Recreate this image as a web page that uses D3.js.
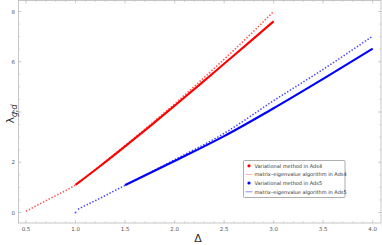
<!DOCTYPE html>
<meta charset="utf-8">
<script src="https://d3js.org/d3.v7.min.js"></script>
<style>
    body { margin: 0; background: white; }
    text { font-family: "DejaVu Sans", sans-serif; }
</style>
<div id="my_dataviz"></div>
<script>
    // data
    var ads4VarDelta = [1.0, 1.25, 1.5, 1.75, 2.0, 2.25, 2.5, 2.75, 3.0]
    var ads4VarLambda = [1.10, 1.85, 2.63, 3.43, 4.25, 5.08, 5.92, 6.76, 7.61]

    var ads4MatDelta = [0.5, 0.75, 1.0, 1.25, 1.5, 1.75, 2.0, 2.25, 2.5, 2.75, 3.0]
    var ads4MatLambda = [0.05, 0.57, 1.10, 1.87, 2.66, 3.48, 4.32, 5.2, 6.1, 7.03, 8.0]

    var ads5VarDelta = [1.5, 2.0, 2.5, 3.0, 3.5, 4.0]
    var ads5VarLambda = [1.09, 2.05, 3.04, 4.15, 5.32, 6.52]

    var ads5MatDelta = [1.025, 1.1, 1.25, 1.4, 1.5, 2.0, 2.5, 3.0, 3.5, 4.0]
    var ads5MatLambda = [0.13, 0.28, 0.57, 0.88, 1.08, 2.1, 3.15, 4.45, 5.7, 7.02]
    var ads5MatStart = [1.0, 0.0]

    var xTicks = [0.5, 1.0, 1.5, 2.0, 2.5, 3.0, 3.5, 4.0]
    var yTicks = [0, 2, 4, 6, 8]

    var legendLabels = ["Variational method in Ads4", "matrix\u2013eigenvalue algorithm in Ads4",
        "Variational method in Ads5", "matrix\u2013eigenvalue algorithm in Ads5"]

    var W = 382, H = 245
    var frame = { left: 18.5, right: 381, top: 0.5, bottom: 223 }

    var svg = d3.select("#my_dataviz").append("svg")
        .attr("width", W).attr("height", H)

    var x = d3.scaleLinear().domain([0.5, 4]).range([26, 372.7])
    var y = d3.scaleLinear().domain([0, 8]).range([212.5, 11.5])

    var xMin = x.invert(frame.left), xMax = x.invert(frame.right)
    var yMin = y.invert(frame.bottom), yMax = y.invert(frame.top)

    var axisColor = "#b8b8b8"

    // minor ticks
    var xMinor = d3.range(0.5, 4.05, 0.1).filter(function(v) { return v > xMin && v < xMax })
    var yMinor = d3.range(-0.5, 8.6, 0.5).filter(function(v) { return v > yMin && v < yMax })

    function drawTicks(vals, len, cls) {
        var g = svg.append("g").attr("class", cls)
        vals.forEach(function(v) {
            var px = x(v)
            g.append("line").attr("x1", px).attr("x2", px).attr("y1", frame.bottom).attr("y2", frame.bottom - len)
            g.append("line").attr("x1", px).attr("x2", px).attr("y1", frame.top).attr("y2", frame.top + len)
        })
        g.selectAll("line").attr("stroke", axisColor).attr("stroke-width", 0.6)
    }
    function drawYTicks(vals, len, cls) {
        var g = svg.append("g").attr("class", cls)
        vals.forEach(function(v) {
            var py = y(v)
            g.append("line").attr("y1", py).attr("y2", py).attr("x1", frame.left).attr("x2", frame.left + len)
            g.append("line").attr("y1", py).attr("y2", py).attr("x1", frame.right).attr("x2", frame.right - len)
        })
        g.selectAll("line").attr("stroke", axisColor).attr("stroke-width", 0.6)
    }
    drawTicks(xMinor, 1.5, "xminor")
    drawTicks(xTicks, 3, "xmajor")
    drawYTicks(yMinor, 1.5, "yminor")
    drawYTicks(yTicks, 3, "ymajor")

    svg.append("rect")
        .attr("x", frame.left).attr("y", frame.top)
        .attr("width", frame.right - frame.left).attr("height", frame.bottom - frame.top)
        .attr("fill", "none").attr("stroke", axisColor).attr("stroke-width", 0.8)

    // tick labels
    svg.append("g").selectAll("text").data(xTicks).enter().append("text")
        .attr("x", function(d) { return x(d) })
        .attr("y", 231)
        .attr("text-anchor", "middle")
        .style("font-size", "5.5px").style("fill", "#555")
        .text(function(d) { return d.toFixed(1) })

    svg.append("g").selectAll("text").data(yTicks).enter().append("text")
        .attr("x", 15)
        .attr("y", function(d) { return y(d) + 2 })
        .attr("text-anchor", "end")
        .style("font-size", "5.5px").style("fill", "#555")
        .text(function(d) { return d })

    // axis labels
    svg.append("text")
        .attr("x", 198).attr("y", 242)
        .attr("text-anchor", "middle")
        .style("font-size", "11px").style("fill", "#333")
        .text("\u0394")

    var yl = svg.append("text")
        .attr("transform", "translate(14,114) rotate(-90)")
        .attr("text-anchor", "middle")
        .style("fill", "#333")
    yl.append("tspan").style("font-size", "11px").text("\u03bb")
    yl.append("tspan").attr("dy", 3).style("font-size", "8px").style("font-style", "italic").text("g,d")

    // curves
    function pts(xs, ys) { return xs.map(function(d, i) { return [d, ys[i]] }) }
    var line = d3.line()
        .x(function(d) { return x(d[0]) })
        .y(function(d) { return y(d[1]) })
        .curve(d3.curveMonotoneX)

    svg.append("path").datum(pts(ads4MatDelta, ads4MatLambda))
        .attr("d", line).attr("fill", "none")
        .attr("stroke", "#ff3030").attr("stroke-opacity", 0.85)
        .attr("stroke-width", 1.6).attr("stroke-dasharray", "1.4,1.8")

    svg.append("path").datum(pts(ads5MatDelta, ads5MatLambda))
        .attr("d", line).attr("fill", "none")
        .attr("stroke", "#2a2aff").attr("stroke-opacity", 0.9)
        .attr("stroke-width", 1.5).attr("stroke-dasharray", "1.4,1.8")

    svg.append("rect")
        .attr("x", x(ads5MatStart[0]) - 0.8).attr("y", y(ads5MatStart[1]) - 0.8)
        .attr("width", 1.6).attr("height", 1.6)
        .attr("fill", "#2a2aff").attr("fill-opacity", 0.9)

    svg.append("path").datum(pts(ads4VarDelta, ads4VarLambda))
        .attr("d", line).attr("fill", "none")
        .attr("stroke", "#ff0000").attr("stroke-width", 2.1)

    svg.append("path").datum(pts(ads5VarDelta, ads5VarLambda))
        .attr("d", line).attr("fill", "none")
        .attr("stroke", "#0000ff").attr("stroke-width", 2.1)

    // legend
    var lg = svg.append("g")
    lg.append("rect")
        .attr("x", 243.5).attr("y", 160.5).attr("width", 101.5).attr("height", 37)
        .attr("fill", "white").attr("stroke", "#777").attr("stroke-width", 0.6)
        .attr("rx", 1)
    var legY = [165.8, 174.5, 183, 191.8]
    var legColor = ["#ff0000", "#ffaaaa", "#0000ff", "#8080ff"]
    legendLabels.forEach(function(t, i) {
        if (i % 2 === 0) {
            lg.append("circle").attr("cx", 249).attr("cy", legY[i]).attr("r", 1.6).attr("fill", legColor[i])
        } else {
            lg.append("line").attr("x1", 245.5).attr("x2", 252.5)
                .attr("y1", legY[i]).attr("y2", legY[i])
                .attr("stroke", legColor[i]).attr("stroke-width", 0.9)
        }
        lg.append("text").attr("x", 254.5).attr("y", legY[i] + 1.8)
            .style("font-size", "5px").style("fill", "#333")
            .text(t)
    })
</script>
